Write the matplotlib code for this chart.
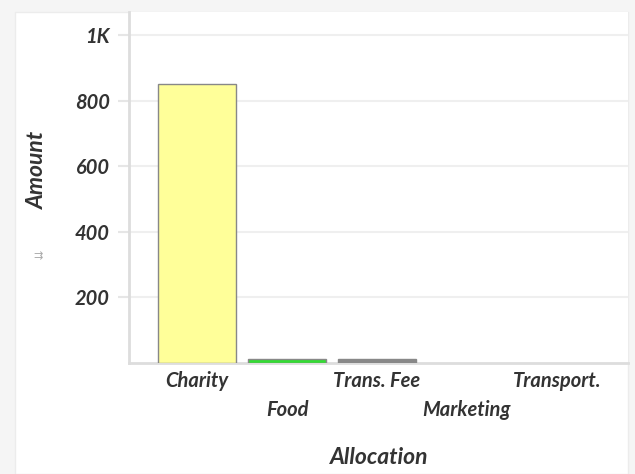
import matplotlib.pyplot as plt
from matplotlib.patches import Rectangle
from matplotlib.ticker import FixedLocator

categories = ["Charity", "Food", "Trans. Fee", "Marketing", "Transport."]
amounts = [850, 12, 11, 0, 0]
bar_colors = ["#ffff99", "#33dd33", "#888888", "#cccccc", "#cccccc"]
y_ticks = [200, 400, 600, 800, 1000]
y_tick_labels = ["200", "400", "600", "800", "1K"]

FONT = ["Lato", "DejaVu Sans"]
TEXT_COLOR = "#333333"
LABEL_KW = dict(fontfamily=FONT, fontweight="bold", fontstyle="italic",
                color=TEXT_COLOR)

fig = plt.figure(figsize=(6.35, 4.74), dpi=100)
fig.patch.set_facecolor("#f5f5f5")

# white card behind the chart
card = Rectangle((15 / 635, 0), (628 - 15) / 635, 1 - 12 / 474,
                 transform=fig.transFigure, facecolor="white",
                 edgecolor="#ececec", linewidth=1, zorder=-1)
fig.patches.append(card)

ax = fig.add_axes([129 / 635, 1 - 363 / 474, (628 - 129) / 635, (363 - 12) / 474])
ax.set_zorder(2)
ax.set_facecolor("white")

x = list(range(len(categories)))
edge_widths = [1.0 if v > 0 else 0 for v in amounts]
ax.bar(x, amounts, width=0.87, color=bar_colors, edgecolor="#888888",
       linewidth=edge_widths, zorder=3)

ax.set_xlim(-0.756, 4.79)
ax.set_ylim(0, 1070)

ax.yaxis.set_major_locator(FixedLocator(y_ticks))
ax.set_yticklabels(y_tick_labels, fontsize=14.5, **LABEL_KW)
ax.tick_params(axis="y", length=8, width=1.5, color="#e6e6e6", pad=6)
ax.grid(axis="y", color="#efefef", linewidth=1.5, zorder=0)

ax.set_xticks(x)
ax.set_xticklabels([])
ax.tick_params(axis="x", length=0)
for i, name in enumerate(categories):
    # alternate rows so long names don't collide
    dy = -18 if i % 2 == 0 else -47
    ax.annotate(name, xy=(i, 0), xytext=(0, dy), textcoords="offset pixels",
                ha="center", va="center", fontsize=14.5, annotation_clip=False,
                **LABEL_KW)

for side in ["top", "right"]:
    ax.spines[side].set_visible(False)
ax.spines["left"].set_color("#dddddd")
ax.spines["left"].set_linewidth(2)
ax.spines["bottom"].set_color("#dddddd")
ax.spines["bottom"].set_linewidth(2)

fig.text(37 / 635, 1 - 170 / 474, "Amount", rotation=90, ha="center",
         va="center", fontsize=16.5, **LABEL_KW)
fig.text(379 / 635, 1 - 457 / 474, "Allocation", ha="center", va="center",
         fontsize=16.5, **LABEL_KW)
fig.text(38 / 635, 1 - 256 / 474, "⇉", ha="center", va="center",
         fontfamily=["DejaVu Sans"], fontsize=8, color="#aaaaaa")

fig.savefig("out.png", dpi=100, facecolor=fig.get_facecolor())
